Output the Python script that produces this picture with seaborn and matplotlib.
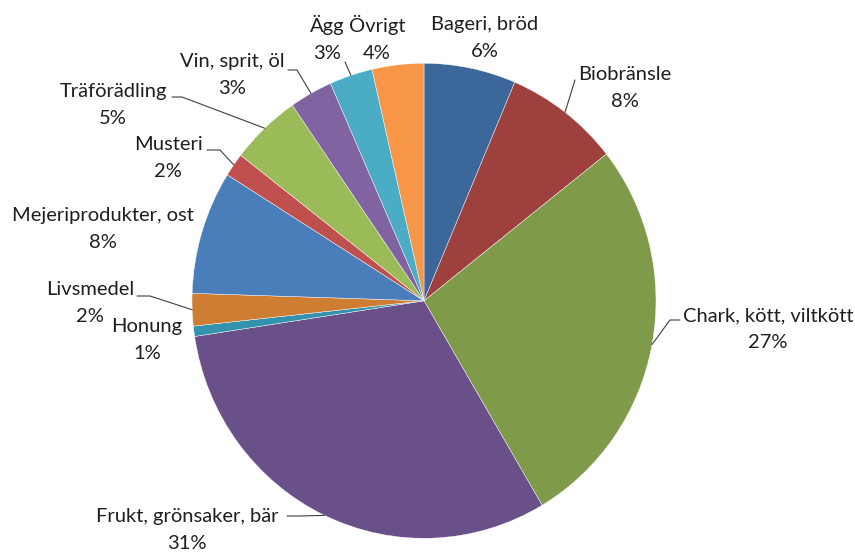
import numpy as np
import matplotlib
matplotlib.use("Agg")
import matplotlib.pyplot as plt
import seaborn as sns

# data, clockwise from 12 o'clock
categories = ["Bageri, bröd", "Biobränsle", "Chark, kött, viltkött",
              "Frukt, grönsaker, bär", "Honung", "Livsmedel",
              "Mejeriprodukter, ost", "Musteri", "Träförädling",
              "Vin, sprit, öl", "Ägg", "Övrigt"]
shares = [6.4, 8.0, 27.1, 31.1, 0.7, 2.2, 8.4, 1.6, 4.9, 3.0, 3.0, 3.6]

colors = ["#3C679A", "#9E413E", "#7F9A48", "#6A5089", "#3592AE", "#CF7D33",
          "#4A7EBB", "#C0504D", "#9BBB59", "#8064A2", "#4BACC6", "#F79646"]

# label layout, pixels from top left
label_pos = [(485, 38), (625, 88), (768, 329), (187, 530), (147, 340),
             (90, 303), (103, 229), (168, 158), (113, 105), (232, 75),
             (327, 38), (377, 38)]
# leader lines: (start next to text, elbow), None = no leader
leaders = [None, ((575, 80), (575, 80)), ((680, 320), (670, 320)),
           ((287, 516), (300, 516)), None, ((137, 296), (150, 296)), None,
           ((207, 150), (220, 150)), ((172, 97), (182, 97)),
           ((288, 70), (297, 70)), ((345, 62), (345, 62)), None]

W, H = 855, 552
cx, cy, rx, ry = 424, 300.8, 232, 237.5

sns.set_style("white")
plt.rcParams["font.family"] = ["Lato", "DejaVu Sans"]

fig = plt.figure(figsize=(W / 100, H / 100), dpi=100)
ax = fig.add_axes([(cx - rx) / W, (H - cy - ry) / H, 2 * rx / W, 2 * ry / H])
ax.pie(shares, colors=sns.color_palette(colors), startangle=90,
       counterclock=False, radius=1,
       wedgeprops=dict(edgecolor="white", linewidth=0.3))
ax.set_aspect("auto")
ax.set_xlim(-1, 1)
ax.set_ylim(-1, 1)
ax.axis("off")

# overlay in pixel coordinates for labels
lay = fig.add_axes([0, 0, 1, 1])
lay.set_xlim(0, W)
lay.set_ylim(H, 0)
lay.axis("off")
lay.patch.set_alpha(0)

total = sum(shares)
cum = np.cumsum(shares)
for i, name in enumerate(categories):
    mid = (cum[i] - shares[i] / 2) / total * 2 * np.pi
    ex = cx + rx * np.sin(mid)
    ey = cy - ry * np.cos(mid)
    x, y = label_pos[i]
    pct = round(shares[i] / total * 100)
    lay.text(x, y, f"{name}\n{pct}%", ha="center", va="center",
             fontsize=14.5, color="#1F1F1F", linespacing=1.72)
    if leaders[i] is not None:
        (sx, sy), (bx, by) = leaders[i]
        lay.plot([sx, bx, ex], [sy, by, ey], color="#404040", lw=0.8)

fig.savefig("out.png", dpi=100)
